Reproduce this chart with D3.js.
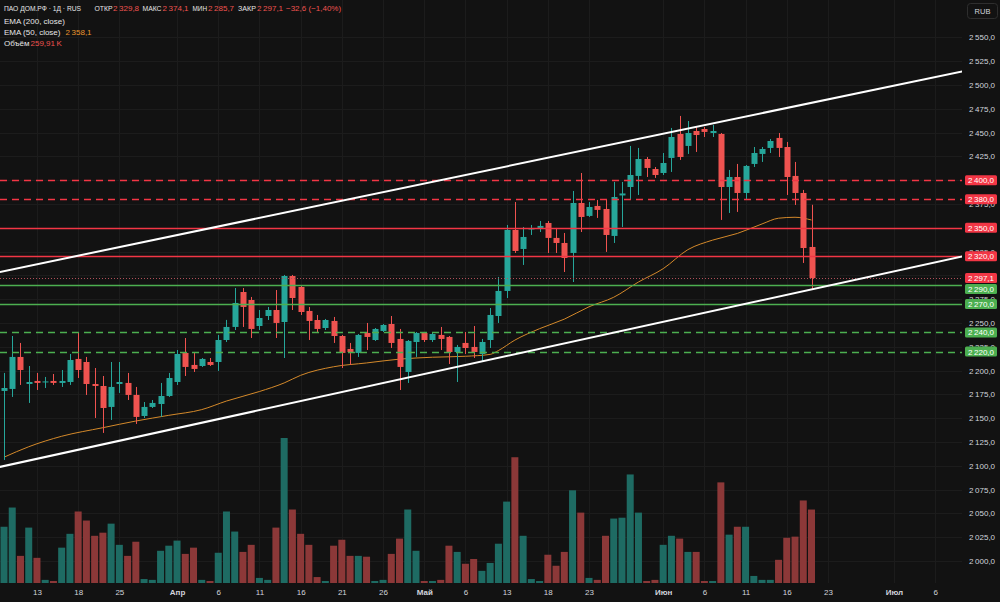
<!DOCTYPE html>
<html>
<head>
<meta charset="utf-8">
<script src="https://cdn.jsdelivr.net/npm/d3@7"></script>
<style>
html, body { margin: 0; padding: 0; background: #121212; }
svg { display: block; }
text { font-family: "Liberation Sans", Arial, sans-serif; }
</style>
</head>
<body>
<svg id="chart" width="1000" height="602"></svg>
<script>
// OHLC, one value per daily bar (oldest first)
var openP = [
    2178.6, 2180.7, 2214.3, 2185.9, 2189.1, 2187.5, 2189.1, 2187.0, 2188.0, 2212.2,
    2209.0, 2185.9, 2183.8, 2161.8, 2185.9, 2187.0, 2174.4, 2152.3, 2161.8, 2164.9,
    2173.3, 2188.0, 2218.5, 2205.9, 2204.8, 2209.0, 2209.0, 2232.1, 2245.8, 2282.5,
    2274.1, 2246.8, 2257.3, 2263.6, 2251.0, 2299.3, 2287.8, 2262.6, 2253.1, 2244.7,
    2252.1, 2236.3, 2222.7, 2218.5, 2239.5, 2232.1, 2241.6, 2248.9, 2233.2, 2198.5,
    2230.0, 2239.5, 2232.1, 2237.4, 2235.3, 2219.5, 2229.0, 2224.8, 2217.4, 2232.1,
    2257.3, 2283.6, 2347.7, 2327.7, 2348.2, 2349.8, 2355.0, 2339.3, 2334.0, 2323.5,
    2376.0, 2362.4, 2372.9, 2369.7, 2341.4, 2383.9, 2392.8, 2404.4, 2422.2, 2411.7,
    2407.5, 2423.3, 2448.5, 2435.9, 2451.6, 2453.7, 2449.5, 2448.5, 2392.8, 2403.3,
    2386.5, 2417.0, 2427.5, 2433.8, 2444.3, 2434.8, 2404.4, 2386.5, 2329.8
];
var highP = [
    2197.5, 2236.3, 2229.0, 2204.8, 2197.5, 2193.3, 2196.4, 2200.6, 2217.4, 2240.5,
    2214.3, 2202.7, 2194.3, 2209.0, 2209.0, 2197.5, 2182.8, 2167.0, 2169.1, 2187.0,
    2197.5, 2221.6, 2234.2, 2218.5, 2213.2, 2213.2, 2237.4, 2253.2, 2286.7, 2286.7,
    2277.3, 2263.6, 2266.8, 2284.6, 2300.4, 2300.4, 2288.8, 2266.8, 2258.4, 2254.2,
    2256.3, 2237.4, 2229.0, 2238.4, 2250.0, 2244.7, 2248.9, 2257.3, 2243.7, 2232.1,
    2240.5, 2240.5, 2239.5, 2245.8, 2236.3, 2226.9, 2240.5, 2246.8, 2233.2, 2265.7,
    2298.3, 2352.9, 2377.0, 2350.8, 2352.9, 2357.1, 2357.1, 2349.8, 2344.5, 2388.6,
    2407.5, 2377.0, 2379.2, 2379.2, 2398.1, 2398.1, 2435.9, 2433.8, 2424.3, 2413.8,
    2428.5, 2454.8, 2467.4, 2462.1, 2455.8, 2455.8, 2457.9, 2449.5, 2410.7, 2417.0,
    2415.9, 2434.8, 2434.8, 2443.2, 2449.5, 2440.1, 2419.1, 2389.7, 2374.1
];
var lowP = [
    2106.1, 2172.3, 2184.9, 2166.0, 2179.6, 2181.7, 2184.9, 2182.8, 2184.9, 2192.2,
    2174.4, 2150.2, 2134.5, 2148.1, 2176.5, 2169.1, 2143.9, 2150.2, 2160.7, 2151.3,
    2172.3, 2184.9, 2194.3, 2198.5, 2203.8, 2204.8, 2199.6, 2230.0, 2242.6, 2245.8,
    2234.2, 2242.6, 2253.1, 2234.2, 2213.2, 2263.6, 2258.4, 2232.1, 2240.5, 2242.6,
    2229.0, 2202.7, 2205.9, 2214.3, 2221.6, 2231.1, 2240.5, 2223.7, 2179.6, 2187.0,
    2214.3, 2230.0, 2230.0, 2221.6, 2206.9, 2188.0, 2217.4, 2213.2, 2209.0, 2223.7,
    2250.0, 2276.2, 2323.5, 2310.9, 2342.4, 2345.5, 2323.5, 2323.5, 2303.5, 2293.0,
    2345.5, 2361.3, 2360.3, 2324.6, 2334.0, 2350.8, 2379.2, 2384.4, 2403.3, 2402.3,
    2405.4, 2408.6, 2421.2, 2427.5, 2429.6, 2445.3, 2445.3, 2358.2, 2365.5, 2366.6,
    2380.2, 2413.8, 2419.1, 2428.5, 2424.3, 2384.4, 2373.9, 2313.0, 2285.7
];
var closeP = [
    2181.7, 2214.3, 2200.6, 2188.0, 2187.0, 2188.6, 2187.0, 2189.1, 2211.1, 2200.6,
    2185.9, 2183.8, 2160.7, 2182.8, 2188.0, 2174.4, 2151.3, 2161.8, 2166.0, 2173.3,
    2192.2, 2217.4, 2203.8, 2201.7, 2212.2, 2205.9, 2232.1, 2245.8, 2271.0, 2266.8,
    2243.7, 2255.2, 2263.6, 2250.0, 2299.3, 2276.2, 2261.5, 2252.1, 2243.7, 2253.1,
    2236.3, 2218.5, 2219.5, 2237.4, 2235.3, 2243.7, 2247.9, 2229.0, 2203.8, 2231.1,
    2239.5, 2232.1, 2238.4, 2233.2, 2219.5, 2224.8, 2223.7, 2219.5, 2230.0, 2258.4,
    2283.6, 2347.7, 2325.6, 2340.3, 2349.2, 2351.9, 2339.3, 2334.0, 2318.2, 2376.0,
    2361.3, 2371.8, 2368.7, 2342.4, 2382.3, 2386.0, 2405.4, 2422.2, 2412.8, 2405.4,
    2418.0, 2445.3, 2424.3, 2449.5, 2447.4, 2450.6, 2451.6, 2392.8, 2403.3, 2386.5,
    2414.9, 2428.5, 2432.7, 2441.1, 2433.8, 2403.3, 2386.5, 2328.7, 2297.1
];
// volume, thousands
var volumeK = [
    199, 267, 96, 196, 89, 11, 7, 125, 174, 253,
    221, 167, 178, 210, 135, 96, 146, 14, 11, 114,
    132, 150, 103, 125, 11, 7, 107, 253, 182, 110,
    135, 18, 11, 196, 513, 260, 174, 135, 21, 7,
    132, 153, 96, 96, 93, 7, 11, 103, 157, 260,
    114, 7, 7, 11, 132, 110, 68, 85, 43, 71,
    139, 288, 445, 167, 14, 7, 100, 61, 110, 328,
    249, 18, 11, 167, 228, 231, 384, 249, 7, 11,
    135, 167, 157, 110, 110, 7, 7, 356, 171, 199,
    199, 25, 11, 11, 82, 160, 164, 292, 259.91
];

// EMA(50) read at sample bars
var emaIdx = [0, 3, 7, 12, 16, 20, 24, 27, 31, 34, 36, 40, 44, 48, 52, 56, 59, 60, 62, 65, 68, 71, 74, 77, 80, 83, 86, 89, 92, 94, 96, 98];
var emaVal = [2109, 2120, 2131, 2140, 2147, 2153, 2159, 2168, 2178, 2187, 2195, 2204, 2208, 2212, 2214, 2215, 2217, 2221, 2232, 2244, 2254, 2267, 2277, 2293, 2307, 2327, 2337, 2344, 2354, 2360, 2361, 2358.1];

// channel lines: [bar index, price] anchors
var upperLine = [[-0.5, 2303.5], [116.5, 2514.6]];
var lowerLine = [[-0.5, 2098.8], [116.5, 2320.3]];

// horizontal levels
var redLevels = [2400, 2380, 2350, 2320];
var redDashed = [true, true, false, false];
var greenLevels = [2290, 2270, 2240, 2220];
var greenDashed = [false, false, true, true];
var lastPrice = 2297.1;

// axes
var priceTicks = [2000, 2025, 2050, 2075, 2100, 2125, 2150, 2175, 2200, 2225, 2250, 2275,
    2300, 2325, 2350, 2375, 2400, 2425, 2450, 2475, 2500, 2525, 2550];
var dateTickIdx = [4, 9, 14, 21, 26, 31, 36, 41, 46, 51, 56, 61, 66, 71, 80, 85, 90, 95, 100, 108, 113];
var dateTickText = ["13", "18", "25", "Апр", "6", "11", "16", "21", "26", "Май", "6", "13", "18", "23", "Июн", "6", "11", "16", "23", "Июл", "6"];
var monthNames = ["Апр", "Май", "Июн", "Июл"];

var upColor = "#26a69a", downColor = "#ef5350";
var volUp = "#1e6b63", volDown = "#8c3838";
var bg = "#121212";

var svg = d3.select("#chart"),
    W = 1000, H = 602,
    plotR = 962, plotB = 583;

svg.append("rect").attr("width", W).attr("height", H).attr("fill", bg);

svg.append("clipPath").attr("id", "plotClip")
    .append("rect").attr("x", 0).attr("y", 0).attr("width", plotR).attr("height", plotB);

var x = d3.scaleLinear().domain([0, 98]).range([4, 811.5]);
var y = d3.scaleLinear().domain([2000, 2550]).range([561, 37.3]);
var yVol = d3.scaleLinear().domain([0, 513]).range([plotB, 438]);

var fmt = d3.formatLocale({decimal: ",", thousands: "\u2009", grouping: [3], currency: ["", ""], minus: "\u2212"}).format(",.1f");

var plot = svg.append("g").attr("clip-path", "url(#plotClip)");

// grid
plot.selectAll(".vgrid").data(dateTickIdx).enter().append("line")
    .attr("x1", d => Math.round(x(d)) + 0.5).attr("x2", d => Math.round(x(d)) + 0.5)
    .attr("y1", 0).attr("y2", plotB)
    .attr("stroke", "#1c1c1c").attr("stroke-width", 1);
plot.selectAll(".hgrid").data(priceTicks).enter().append("line")
    .attr("x1", 0).attr("x2", plotR)
    .attr("y1", d => Math.round(y(d)) + 0.5).attr("y2", d => Math.round(y(d)) + 0.5)
    .attr("stroke", "#1c1c1c").attr("stroke-width", 1);

var bars = d3.range(openP.length).map(function (i) {
    return {i: i, o: openP[i], h: highP[i], l: lowP[i], c: closeP[i], v: volumeK[i]};
});

// volume
plot.selectAll(".vol").data(bars).enter().append("rect")
    .attr("x", d => x(d.i) - 3.5)
    .attr("width", 7)
    .attr("y", d => yVol(d.v))
    .attr("height", d => plotB - yVol(d.v))
    .attr("fill", d => d.c >= d.o ? volUp : volDown);

// EMA 50
var emaPts = emaIdx.map((d, k) => [d, emaVal[k]]);
plot.append("path")
    .datum(emaPts)
    .attr("fill", "none")
    .attr("stroke", "#d4892a")
    .attr("stroke-width", 1)
    .attr("d", d3.line().x(d => x(d[0])).y(d => y(d[1])).curve(d3.curveMonotoneX));

// candles
var cg = plot.selectAll(".candle").data(bars).enter().append("g");
cg.append("line")
    .attr("x1", d => Math.round(x(d.i)) + 0.5).attr("x2", d => Math.round(x(d.i)) + 0.5)
    .attr("y1", d => y(d.h)).attr("y2", d => y(d.l))
    .attr("stroke", d => d.c >= d.o ? upColor : downColor).attr("stroke-width", 1);
cg.append("rect")
    .attr("x", d => Math.round(x(d.i)) - 2.5)
    .attr("width", 6)
    .attr("y", d => y(Math.max(d.o, d.c)))
    .attr("height", d => Math.max(1, Math.abs(y(d.o) - y(d.c))))
    .attr("fill", d => d.c >= d.o ? upColor : downColor);

// levels
function drawLevel(val, color, dashed) {
    plot.append("line")
        .attr("x1", 0).attr("x2", plotR)
        .attr("y1", Math.round(y(val)) + 0.5).attr("y2", Math.round(y(val)) + 0.5)
        .attr("stroke", color).attr("stroke-width", 1.3)
        .attr("stroke-dasharray", dashed ? "7,5" : null);
}
redLevels.forEach((v, k) => drawLevel(v, "#f23645", redDashed[k]));
greenLevels.forEach((v, k) => drawLevel(v, "#4caf50", greenDashed[k]));
plot.append("line")
    .attr("x1", 0).attr("x2", plotR)
    .attr("y1", Math.round(y(lastPrice)) + 0.5).attr("y2", Math.round(y(lastPrice)) + 0.5)
    .attr("stroke", "#b0505a").attr("stroke-width", 1).attr("stroke-dasharray", "1,2");

// channel
[upperLine, lowerLine].forEach(function (ln) {
    plot.append("line")
        .attr("x1", x(ln[0][0])).attr("y1", y(ln[0][1]))
        .attr("x2", x(ln[1][0])).attr("y2", y(ln[1][1]))
        .attr("stroke", "#ffffff").attr("stroke-width", 2);
});

// price axis (labels sitting exactly under a level badge are hidden, as on the original)
var levelAll = redLevels.concat(greenLevels);
var shownTicks = priceTicks.filter(t => levelAll.indexOf(t) < 0);
var yAxis = svg.append("g")
    .attr("transform", "translate(" + plotR + ",0)")
    .call(d3.axisRight(y).tickValues(shownTicks).tickFormat(fmt).tickSize(0).tickPadding(7));
yAxis.select(".domain").remove();
yAxis.selectAll("text").attr("fill", "#d1d4dc").attr("font-size", "8px").attr("font-family", "Liberation Sans, Arial, sans-serif");

// level labels on the axis
var boxes = [];
redLevels.forEach(v => boxes.push({v: v, c: "#f23645"}));
boxes.push({v: lastPrice, c: "#f23645"});
greenLevels.forEach(v => boxes.push({v: v, c: "#4caf50"}));
boxes.sort((a, b) => b.v - a.v);
var boxH = 10, prevBottom = -1e9;
boxes.forEach(function (b) {
    var cy = Math.max(y(b.v), prevBottom + 1 + boxH / 2);
    b.cy = cy;
    prevBottom = cy + boxH / 2;
});
var bg2 = svg.selectAll(".lbl").data(boxes).enter().append("g");
bg2.append("rect")
    .attr("x", 965).attr("width", 32)
    .attr("y", d => d.cy - boxH / 2).attr("height", boxH)
    .attr("rx", 1.5)
    .attr("fill", d => d.c);
bg2.append("text")
    .attr("x", 981).attr("y", d => d.cy + 3)
    .attr("text-anchor", "middle")
    .attr("font-size", "8px")
    .attr("fill", "#ffffff")
    .text(d => fmt(d.v));

// currency badge
svg.append("rect").attr("x", 967.5).attr("y", 3.5).attr("width", 30).attr("height", 15).attr("rx", 3)
    .attr("fill", "none").attr("stroke", "#2e2e2e");
svg.append("text").attr("x", 982.5).attr("y", 14).attr("text-anchor", "middle")
    .attr("font-size", "7.5px").attr("fill", "#d1d4dc").text("RUB");

// date axis
var xAxis = svg.append("g")
    .attr("transform", "translate(0," + plotB + ")")
    .call(d3.axisBottom(x).tickValues(dateTickIdx).tickFormat((d, k) => dateTickText[k]).tickSize(0).tickPadding(6));
xAxis.select(".domain").remove();
xAxis.selectAll("text")
    .attr("fill", "#d1d4dc").attr("font-size", "8px").attr("font-family", "Liberation Sans, Arial, sans-serif")
    .attr("font-weight", (d, k) => monthNames.indexOf(dateTickText[k]) >= 0 ? "bold" : "normal");

// legend
var lg = svg.append("g").attr("font-size", "8px");
var t1 = lg.append("text").attr("y", 10.5).attr("fill", "#e6e6e6");
t1.append("tspan").attr("x", 4).attr("textLength", 77).attr("lengthAdjust", "spacingAndGlyphs").text("ПАО ДОМ.РФ · 1Д · RUS");
t1.append("tspan").attr("x", 94.5).attr("textLength", 18).attr("lengthAdjust", "spacingAndGlyphs").text("ОТКР");
t1.append("tspan").attr("x", 113).attr("fill", downColor).text(fmt(openP[98]));
t1.append("tspan").attr("x", 142.5).attr("textLength", 19).attr("lengthAdjust", "spacingAndGlyphs").text("МАКС");
t1.append("tspan").attr("x", 162.5).attr("fill", downColor).text(fmt(highP[98]));
t1.append("tspan").attr("x", 192.5).attr("textLength", 14.5).attr("lengthAdjust", "spacingAndGlyphs").text("МИН");
t1.append("tspan").attr("x", 208).attr("fill", downColor).text(fmt(lowP[98]));
t1.append("tspan").attr("x", 238).attr("textLength", 18).attr("lengthAdjust", "spacingAndGlyphs").text("ЗАКР");
t1.append("tspan").attr("x", 257).attr("fill", downColor).text(fmt(closeP[98]));
t1.append("tspan").attr("x", 286).attr("fill", downColor).text("\u221232,6 (\u22121,40%)");

lg.append("text").attr("x", 4).attr("y", 23.5).attr("fill", "#e6e6e6").text("EMA (200, close)");
var t3 = lg.append("text").attr("y", 35).attr("fill", "#e6e6e6");
t3.append("tspan").attr("x", 4).text("EMA (50, close)");
t3.append("tspan").attr("x", 65.5).attr("fill", "#e8962e").text(fmt(emaVal[emaVal.length - 1]));
var t4 = lg.append("text").attr("y", 46).attr("fill", "#e6e6e6");
t4.append("tspan").attr("x", 4).text("Объём");
t4.append("tspan").attr("x", 30.5).attr("fill", downColor).text("259,91\u2009K");
</script>
</body>
</html>
